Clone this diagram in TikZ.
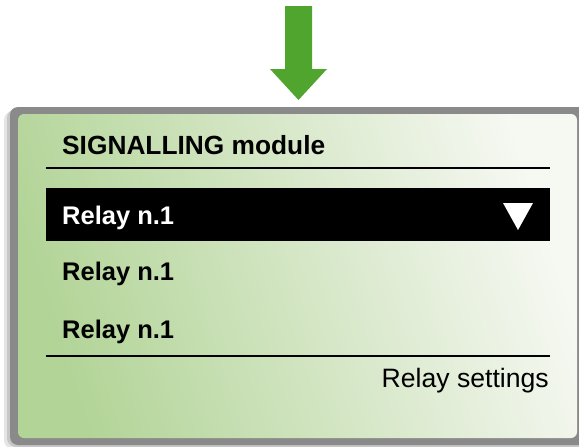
\documentclass[tikz,border=0pt]{standalone}
\usepackage{fontspec}
\setmainfont{Liberation Sans}

\definecolor{arrowgreen}{HTML}{50A52F}
\definecolor{framegray}{HTML}{8A8A8A}
\definecolor{panelgreen}{HTML}{B2D497}
\definecolor{panellight}{HTML}{F6F8F2}

\begin{document}
\begin{tikzpicture}[
  x=1pt, y=-1pt,
  lbl/.style={anchor=base west,inner sep=0pt,font=\fontsize{25.5}{30}\selectfont\bfseries},
  rule/.style={line width=2pt},
  bar/.style={fill=black,inner sep=0pt,anchor=north west,minimum width=504pt,minimum height=53pt}
]
\useasboundingbox (0,0) rectangle (579,447);

% down arrow
\fill[arrowgreen] (285,6) -- (312,6) -- (312,69) -- (327,69) -- (298.5,100)
  -- (270,69) -- (285,69) -- cycle;

% panel with frame and shadow
\fill[black!10,rounded corners=9pt] (4,111) rectangle (592,449);
\fill[black!22,rounded corners=9pt] (7,109) rectangle (592,447);
\fill[framegray,rounded corners=8pt] (10,107) rectangle (592,445);
\shade[rounded corners=6pt,top color=panellight,bottom color=panelgreen,
  shading angle=-72] (18,114) rectangle (577,438);

\node[lbl,font=\fontsize{26.3}{30}\selectfont\bfseries] (title) at (62,154) {SIGNALLING module};
\draw[rule] (46,168) -- (550,168);

\node[bar] (sel) at (46,188) {};
\node[lbl,text=white] (relA) at (62,224) {Relay n.1};
\fill[white] (503,203) -- (533,203) -- (518,230) -- cycle;

\node[lbl] (relB) at (62,280) {Relay n.1};
\node[lbl] (relC) at (62,338) {Relay n.1};
\draw[rule] (46,356) -- (550,356);

\node[lbl,anchor=base east,font=\fontsize{26.6}{30}\selectfont] (settings) at (549,387) {Relay settings};

\end{tikzpicture}
\end{document}
